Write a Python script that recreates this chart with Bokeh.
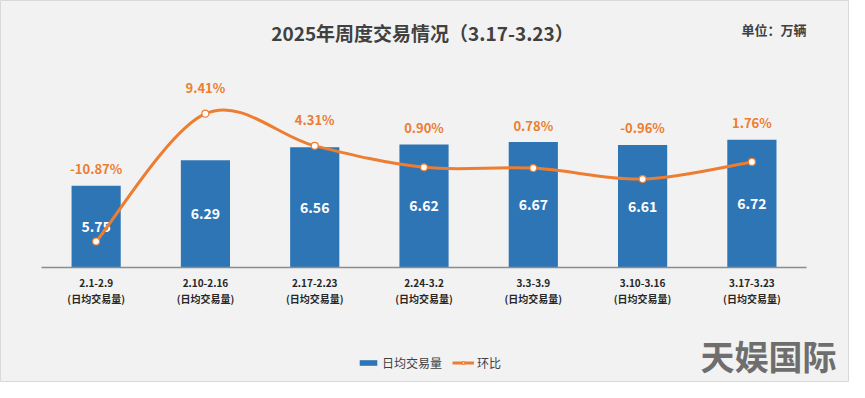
from bokeh.plotting import figure
from bokeh.models import (Range1d, ColumnDataSource, Label, Legend, LegendItem)
from bokeh.embed import file_html
from bokeh.resources import INLINE
from bokeh.core.properties import value

# ---- data ----
weeks = ["2.1-2.9", "2.10-2.16", "2.17-2.23", "2.24-3.2", "3.3-3.9", "3.10-3.16", "3.17-3.23"]
daily_volume = [5.75, 6.29, 6.56, 6.62, 6.67, 6.61, 6.72]
mom_pct = [-10.87, 9.41, 4.31, 0.90, 0.78, -0.96, 1.76]
sub_label = "(日均交易量)"
title_text = "2025年周度交易情况（3.17-3.23）"
unit_text = "单位：万辆"
series_names = ["日均交易量", "环比"]
watermark = "天娱国际"

BLUE = "#2e75b6"
ORANGE = "#ed7d31"
BG = "#f2f2f2"
FONT = "Noto Sans CJK SC"

W, H = 849, 382
n = len(weeks)
xs = [i + 0.5 for i in range(n)]

# axis scales (plot area = whole canvas; bar axis base at 4.03)
bar_base = 4.03
x_px = 109.29          # px per category
frame_left, frame_bottom = 41, 267   # px from left / top
bar_px, pct_px, pct_zero = 47.5, 6.30, 172.5

x_lo = -frame_left / x_px
x_hi = x_lo + W / x_px
y_lo = bar_base - (H - frame_bottom) / bar_px
y_hi = bar_base + frame_bottom / bar_px
p_lo = -(H - pct_zero) / pct_px
p_hi = pct_zero / pct_px

p = figure(width=W, height=H, output_backend="svg", toolbar_location=None,
           x_range=Range1d(x_lo, x_hi), y_range=Range1d(y_lo, y_hi),
           min_border=0, x_axis_location=None, y_axis_location=None)
p.extra_y_ranges = {"pct": Range1d(p_lo, p_hi)}
p.background_fill_color = BG
p.border_fill_color = BG
p.outline_line_color = "#d9d9d9"
p.xgrid.visible = False
p.ygrid.visible = False

src = ColumnDataSource(dict(x=xs, v=daily_volume, pct=mom_pct,
                            vmid=[(v + bar_base) / 2 for v in daily_volume],
                            base=[bar_base] * n,
                            wk=weeks, sub=[sub_label] * n,
                            vlab=[f"{v:.2f}" for v in daily_volume],
                            plab=[f"{q:.2f}%" for q in mom_pct]))

bars = p.vbar(x="x", top="v", bottom=bar_base, width=0.45, source=src,
              fill_color=BLUE, line_color=None)
p.text(x="x", y="vmid", text="vlab", source=src,
       text_color="white", text_font=value(FONT), text_font_size="14px",
       text_font_style="bold", text_align="center", text_baseline="middle")

# category axis line and labels
p.segment(x0=[0], x1=[n], y0=[bar_base], y1=[bar_base], line_color="#8c8c8c", line_width=1.5)
for col, off in (("wk", 15), ("sub", 31)):
    p.text(x="x", y="base", text=col, source=src, y_offset=off,
           text_color="#262626", text_font=value(FONT), text_font_size="10px",
           text_font_style="bold", text_align="center", text_baseline="middle")

# smooth line (Catmull-Rom -> bezier, through the data points)
pts = list(zip(xs, mom_pct))
seg = dict(x0=[], y0=[], x1=[], y1=[], cx0=[], cy0=[], cx1=[], cy1=[])
for i in range(n - 1):
    P0 = pts[i - 1] if i > 0 else pts[i]
    P1 = pts[i]
    P2 = pts[i + 1]
    P3 = pts[i + 2] if i + 2 < n else pts[i + 1]
    seg["x0"].append(P1[0]); seg["y0"].append(P1[1])
    seg["x1"].append(P2[0]); seg["y1"].append(P2[1])
    seg["cx0"].append(P1[0] + (P2[0] - P0[0]) / 6); seg["cy0"].append(P1[1] + (P2[1] - P0[1]) / 6)
    seg["cx1"].append(P2[0] - (P3[0] - P1[0]) / 6); seg["cy1"].append(P2[1] - (P3[1] - P1[1]) / 6)
p.bezier(source=ColumnDataSource(seg), x0="x0", y0="y0", x1="x1", y1="y1",
         cx0="cx0", cy0="cy0", cx1="cx1", cy1="cy1",
         line_color=ORANGE, line_width=3, y_range_name="pct")
dots = p.scatter(x="x", y="pct", source=src, size=7, fill_color="white",
                 line_color=ORANGE, line_width=1.2, y_range_name="pct")

# pct labels above the higher of bar top / point
lab_y, lab_off = [], []
for v, q in zip(daily_volume, mom_pct):
    top_px = (v - bar_base) * bar_px          # bar top, px above base
    pt_px = (q - p_lo) * pct_px - (H - frame_bottom)
    if pt_px > top_px:
        lab_y.append(q); lab_off.append(-26)
    else:
        lab_y.append(p_lo + (top_px + H - frame_bottom) / pct_px); lab_off.append(-17)
src.data["ly"] = lab_y
src.data["loff"] = lab_off
p.text(x="x", y="ly", y_offset="loff", text="plab", source=src, y_range_name="pct",
       text_color=ORANGE, text_font=value(FONT), text_font_size="13px",
       text_font_style="bold", text_align="center", text_baseline="middle")

# legend (single-point line renderer: draws nothing on the plot, gives the legend its line)
legend_line = p.line(x=xs[:1], y=mom_pct[:1], line_color=ORANGE, line_width=3, y_range_name="pct")
legend = Legend(items=[LegendItem(label=series_names[0], renderers=[bars]),
                       LegendItem(label=series_names[1], renderers=[legend_line, dots])],
                orientation="horizontal", location=(357, 11),
                background_fill_alpha=0, border_line_color=None,
                label_text_font=FONT, label_text_font_size="12px", label_text_color="#404040",
                glyph_width=22, glyph_height=7, label_standoff=3, spacing=10, padding=0, margin=0)
p.add_layout(legend, "center")

# texts
p.add_layout(Label(x=422, y=H - 32, x_units="screen", y_units="screen", text=title_text,
                   text_font=FONT, text_font_size="19px", text_font_style="bold",
                   text_color="#404040", text_align="center", text_baseline="middle"))
p.add_layout(Label(x=741, y=H - 29, x_units="screen", y_units="screen", text=unit_text,
                   text_font=FONT, text_font_size="13px", text_font_style="bold",
                   text_color="#404040", text_align="left", text_baseline="middle"))
p.add_layout(Label(x=700, y=27, x_units="screen", y_units="screen", text=watermark,
                   text_font=FONT, text_font_size="34px", text_font_style="bold",
                   text_color="#6e6e6e", text_align="left", text_baseline="middle"))

open("out.html", "w").write(file_html(p, INLINE))
